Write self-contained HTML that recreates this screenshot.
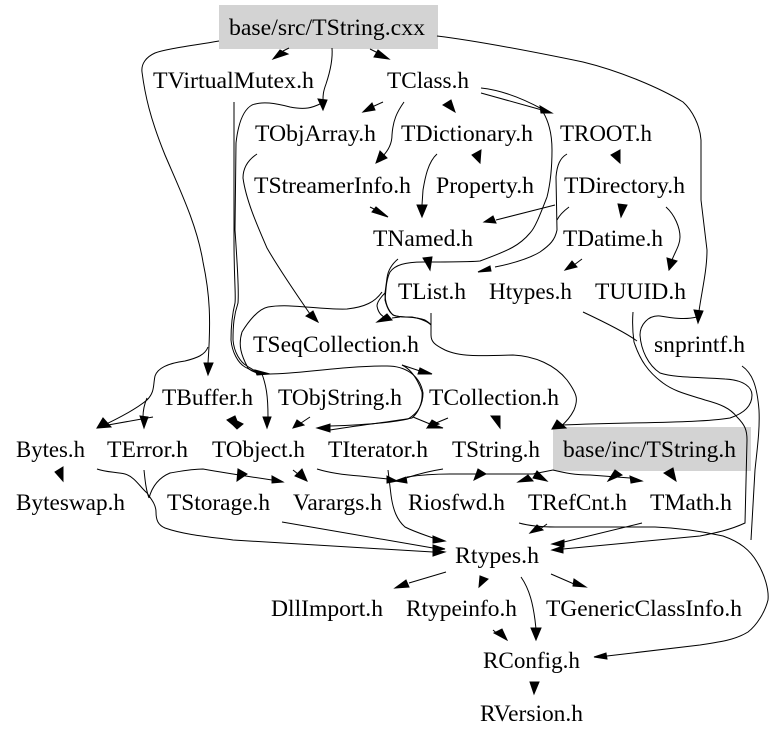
<!DOCTYPE html>
<html><head><meta charset="utf-8"><style>
html,body{margin:0;padding:0;background:#fff}
svg{display:block}
text{font-family:"Liberation Serif",serif;font-size:23.5px;fill:#000}
path{fill:none;stroke:#000;stroke-width:1}
polygon{fill:#000;stroke:#000;stroke-width:1;stroke-linejoin:miter}
</style></head><body>
<svg width="779" height="739" viewBox="0 0 779 739" xmlns="http://www.w3.org/2000/svg">
<rect width="779" height="739" fill="#fff"/>
<rect x="219" y="5" width="219" height="44" fill="#d3d3d3"/>
<rect x="553" y="427" width="198" height="44" fill="#d3d3d3"/>

<!-- edges -->
<path d="M219,41 C190,46 165,49 155,53 C146,57 141,64 142,72 C145,95 150,118 165,155 C180,190 197,225 203,262 C210,295 211,320 208,363"/>
<path d="M208,347 C205,355 197,358 185,361 C170,363 158,367 155,376 C153,385 155,392 147,400 C135,410 115,420 100,427"/>
<path d="M147,398 C144,405 143,410 143,417"/>
<path d="M153,417 L108,425"/>
<path d="M234,102 L234,240 C234,280 236,295 235,303 C232,315 231,325 231,340 C232,352 238,363 245,367 C250,370 255,372 262,374"/>
<path d="M322,103 C312,108 305,110 290,107 C275,103 262,101 252,105 C243,110 238,125 236,143 L235,230 C237,260 239,290 238,303 C234,315 233,325 233,340 C234,352 240,362 247,366 C252,369 256,372 262,374"/>
<path d="M382,292 C375,302 365,307 347,309 C320,310 290,303 268,307 C258,309 248,322 242,332 C238,345 241,355 248,368 C252,372 258,374 270,374 C300,374 340,366 387,366 C405,366 420,375 423,393 C423,405 418,413 408,419 C390,423 360,425 330,426"/>
<path d="M402,365 C412,370 418,380 422,392 C423,403 418,413 412,418 C390,422 360,425 330,430"/>
<path d="M262,374 C266,385 268,395 268,417"/>
<path d="M332,48 C333,60 330,72 326,84 C323,92 323,96 323,100"/>
<path d="M289,48 L283,51"/>
<path d="M370,49 L378,53"/>
<path d="M383,102 L372,107"/>
<path d="M404,102 C397,112 393,120 392,135 C392,145 387,152 382,157"/>
<path d="M257,154 C248,160 243,168 243,178 C246,200 257,225 267,248 C275,262 290,285 310,314"/>
<path d="M370,207 L380,212"/>
<path d="M437,154 C428,162 425,178 423,190 L422,205"/>
<path d="M481,88 C500,90 520,97 542,109"/>
<path d="M481,93 L542,110"/>
<path d="M543,112 C549,122 552,135 552,150 C552,170 550,185 547,197 C540,215 535,228 530,233 C520,245 510,250 480,261 C470,262 440,262 423,262 C405,262 395,265 390,272 C386,280 386,290 385,300 C387,308 390,315 396,316 C405,318 415,316 425,320 C430,323 431,325 431,325"/>
<path d="M437,36 C470,40 520,49 583,62 C620,71 660,88 683,102 C692,110 700,125 701,140 L701,200 L707,250 C707,270 702,290 699,311"/>
<path d="M697,317 C685,320 672,318 660,316 C648,315 640,325 640,335 C641,350 648,365 660,373 C675,378 700,377 725,379 C745,380 752,388 752,395 C752,405 745,413 730,418 C700,423 640,422 562,425"/>
<path d="M431,313 L431,335 C431,342 435,345 445,350 C460,357 480,356 513,355 C535,356 555,365 567,380 C578,395 578,400 574,410 C570,418 565,423 560,427"/>
<path d="M633,312 C632,325 633,335 634,342 C640,360 648,372 663,383 C675,392 690,395 705,400 C720,404 730,408 737,417 C745,425 747,430 747,440 L745,523 C730,530 715,533 700,536 L563,549"/>
<path d="M583,312 C600,320 625,332 637,341"/>
<path d="M742,366 C752,373 757,385 759,410 C760,430 757,450 755,470 L751,540"/>
<path d="M567,154 C560,158 557,165 556,177 L557,230 C555,240 550,245 540,252 C530,258 515,263 495,267"/>
<path d="M569,207 C565,210 560,214 557,220"/>
<path d="M555,205 L496,220"/>
<path d="M666,207 C675,215 680,228 680,237 C680,245 675,252 672,260"/>
<path d="M582,259 L574,265"/>
<path d="M398,259 C392,264 388,270 387,278 L385,293 C380,298 377,303 377,306 C378,312 381,316 386,318"/>
<path d="M385,293 C385,303 388,310 393,315 C398,317 405,317 412,317 C422,319 428,322 431,325"/>
<path d="M392,318 L400,317"/>
<path d="M402,365 L420,371"/>
<path d="M448,418 L436,423"/>
<path d="M413,417 L430,424"/>
<path d="M310,417 L301,423"/>
<path d="M97,469 C105,472 115,472 125,474 C135,477 140,487 147,493 C152,500 156,505 156,512 C156,520 158,525 165,528 C185,535 210,537 233,540 L433,552"/>
<path d="M144,470 C145,480 146,490 149,498"/>
<path d="M149,498 C152,487 158,478 170,473 C182,471 192,469 203,469 C220,472 245,476 272,480"/>
<path d="M293,470 L298,474"/>
<path d="M317,469 C330,473 345,475 360,476 L388,479"/>
<path d="M388,470 L391,495 C393,510 397,520 405,527 C415,532 425,535 433,538"/>
<path d="M443,469 C430,471 418,474 406,478"/>
<path d="M407,477 C420,475 435,474 450,474 L486,474 L533,474 L553,470"/>
<path d="M553,470 C565,473 575,475 590,475 L630,478"/>
<path d="M282,522 L433,548"/>
<path d="M642,523 L564,542"/>
<path d="M519,523 C530,526 540,527 555,527 L655,527 C680,528 705,532 723,536 C740,542 750,550 757,562 C765,575 769,590 768,600 C765,612 757,625 748,632 C735,640 720,642 700,645 L607,656"/>
<path d="M547,524 L540,529"/>
<path d="M446,572 L409,583"/>
<path d="M521,577 C530,590 533,605 535,620 L536,629"/>
<path d="M551,574 L574,584"/>
<path d="M493,630 L500,636"/>

<!-- heads -->
<polygon points="273,59 280,50 288,54"/>
<polygon points="389,59 378,50 374,57"/>
<polygon points="323,110 318,99 327,100"/>
<polygon points="363,112 372,103 375,110"/>
<polygon points="376,163 380,151 387,158"/>
<polygon points="455,112 443,105 451,100"/>
<polygon points="388,217 376,207 372,212"/>
<polygon points="422,217 417,205 427,205"/>
<polygon points="480,163 472,155 481,150"/>
<polygon points="552,113 540,106 541,113"/>
<polygon points="620,163 611,155 620,150"/>
<polygon points="484,222 493,216 496,223"/>
<polygon points="621,217 618,204 627,205"/>
<polygon points="423,258 432,257 430,270"/>
<polygon points="478,272 490,266 491,271"/>
<polygon points="565,270 572,261 577,267"/>
<polygon points="669,270 667,258 677,261"/>
<polygon points="698,323 694,310 703,311"/>
<polygon points="318,322 306,316 313,311"/>
<polygon points="377,322 387,314 392,320"/>
<polygon points="432,374 420,368 418,374"/>
<polygon points="208,375 204,363 213,363"/>
<polygon points="97,428 103,418 111,427"/>
<polygon points="144,428 140,416 148,417"/>
<polygon points="227,420 235,416 237,421 243,424 237,429 233,425"/>
<polygon points="267,428 263,417 271,417"/>
<polygon points="270,374 255,370 257,375"/>
<polygon points="293,428 297,420 304,425"/>
<polygon points="317,428 330,424 330,432"/>
<polygon points="427,428 432,420 439,424"/>
<polygon points="443,428 430,423 428,428"/>
<polygon points="500,428 491,416 500,416"/>
<polygon points="552,429 557,420 566,428"/>
<polygon points="63,481 55,472 63,467"/>
<polygon points="237,481 238,469 247,474"/>
<polygon points="283,482 272,476 272,483"/>
<polygon points="307,481 295,476 302,469"/>
<polygon points="397,481 387,476 387,483"/>
<polygon points="395,481 406,477 407,483"/>
<polygon points="474,480 478,469 486,474"/>
<polygon points="518,482 528,475 533,481"/>
<polygon points="547,481 537,471 533,478"/>
<polygon points="608,481 615,470 622,475"/>
<polygon points="642,481 630,476 631,483"/>
<polygon points="676,481 664,473 673,468"/>
<polygon points="445,541 433,536 433,543"/>
<polygon points="445,549 433,545 433,551"/>
<polygon points="445,552 433,549 433,556"/>
<polygon points="552,544 564,540 564,547"/>
<polygon points="552,550 563,546 563,553"/>
<polygon points="530,533 537,525 543,530"/>
<polygon points="395,588 406,580 409,587"/>
<polygon points="479,587 480,576 488,579"/>
<polygon points="536,640 531,628 541,628"/>
<polygon points="586,587 574,579 573,586"/>
<polygon points="507,640 494,633 502,629"/>
<polygon points="594,657 606,653 607,659"/>
<polygon points="534,694 530,682 539,682"/>

<!-- labels -->
<text x="229" y="35" textLength="196" lengthAdjust="spacingAndGlyphs">base/src/TString.cxx</text>
<text x="153" y="88" textLength="161" lengthAdjust="spacingAndGlyphs">TVirtualMutex.h</text>
<text x="387" y="88" textLength="82" lengthAdjust="spacingAndGlyphs">TClass.h</text>
<text x="255" y="141" textLength="121" lengthAdjust="spacingAndGlyphs">TObjArray.h</text>
<text x="401" y="141" textLength="132" lengthAdjust="spacingAndGlyphs">TDictionary.h</text>
<text x="560" y="141" textLength="92" lengthAdjust="spacingAndGlyphs">TROOT.h</text>
<text x="254" y="193" textLength="157" lengthAdjust="spacingAndGlyphs">TStreamerInfo.h</text>
<text x="436" y="193" textLength="98" lengthAdjust="spacingAndGlyphs">Property.h</text>
<text x="564" y="193" textLength="121" lengthAdjust="spacingAndGlyphs">TDirectory.h</text>
<text x="373" y="246" textLength="100" lengthAdjust="spacingAndGlyphs">TNamed.h</text>
<text x="563" y="246" textLength="100" lengthAdjust="spacingAndGlyphs">TDatime.h</text>
<text x="398" y="299" textLength="68" lengthAdjust="spacingAndGlyphs">TList.h</text>
<text x="489" y="299" textLength="83" lengthAdjust="spacingAndGlyphs">Htypes.h</text>
<text x="595" y="299" textLength="91" lengthAdjust="spacingAndGlyphs">TUUID.h</text>
<text x="253" y="352" textLength="166" lengthAdjust="spacingAndGlyphs">TSeqCollection.h</text>
<text x="654" y="352" textLength="91" lengthAdjust="spacingAndGlyphs">snprintf.h</text>
<text x="162" y="405" textLength="91" lengthAdjust="spacingAndGlyphs">TBuffer.h</text>
<text x="278" y="405" textLength="124" lengthAdjust="spacingAndGlyphs">TObjString.h</text>
<text x="429" y="405" textLength="130" lengthAdjust="spacingAndGlyphs">TCollection.h</text>
<text x="16" y="457" textLength="69" lengthAdjust="spacingAndGlyphs">Bytes.h</text>
<text x="107" y="457" textLength="81" lengthAdjust="spacingAndGlyphs">TError.h</text>
<text x="212" y="457" textLength="93" lengthAdjust="spacingAndGlyphs">TObject.h</text>
<text x="328" y="457" textLength="100" lengthAdjust="spacingAndGlyphs">TIterator.h</text>
<text x="452" y="457" textLength="88" lengthAdjust="spacingAndGlyphs">TString.h</text>
<text x="563" y="457" textLength="173" lengthAdjust="spacingAndGlyphs">base/inc/TString.h</text>
<text x="16" y="510" textLength="109" lengthAdjust="spacingAndGlyphs">Byteswap.h</text>
<text x="167" y="510" textLength="103" lengthAdjust="spacingAndGlyphs">TStorage.h</text>
<text x="293" y="510" textLength="89" lengthAdjust="spacingAndGlyphs">Varargs.h</text>
<text x="408" y="510" textLength="97" lengthAdjust="spacingAndGlyphs">Riosfwd.h</text>
<text x="528" y="510" textLength="99" lengthAdjust="spacingAndGlyphs">TRefCnt.h</text>
<text x="650" y="510" textLength="82" lengthAdjust="spacingAndGlyphs">TMath.h</text>
<text x="455" y="563" textLength="84" lengthAdjust="spacingAndGlyphs">Rtypes.h</text>
<text x="271" y="616" textLength="112" lengthAdjust="spacingAndGlyphs">DllImport.h</text>
<text x="406" y="616" textLength="111" lengthAdjust="spacingAndGlyphs">Rtypeinfo.h</text>
<text x="546" y="616" textLength="196" lengthAdjust="spacingAndGlyphs">TGenericClassInfo.h</text>
<text x="483" y="668" textLength="97" lengthAdjust="spacingAndGlyphs">RConfig.h</text>
<text x="480" y="721" textLength="103" lengthAdjust="spacingAndGlyphs">RVersion.h</text>
</svg>
</body></html>
